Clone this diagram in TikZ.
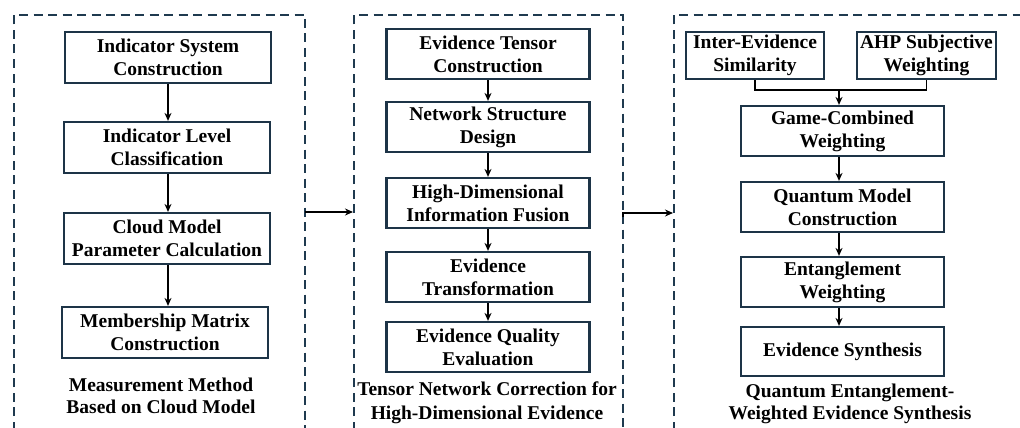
\documentclass[tikz,border=0pt]{standalone}
\usepackage{fontspec}
\setmainfont{Liberation Serif}
\usetikzlibrary{arrows.meta}
\definecolor{navy}{HTML}{1D3447}
\definecolor{dashc}{HTML}{1F3A4F}
\begin{document}
\begin{tikzpicture}[x=1pt,y=-1pt,
  every node/.style={font=\fontsize{19.5}{23}\selectfont\bfseries, align=center, inner sep=0pt},
  stepbox/.style={draw=navy, line width=2.2pt, minimum height=50pt},
  panel/.style={draw=dashc, line width=1.8pt, dash pattern=on 9pt off 5.5pt},
  flow/.style={draw=black, line width=1.4pt, -{Stealth[length=8pt,width=7pt]}},
  plain/.style={draw=black, line width=1.4pt},
  caption/.style={font=\fontsize{19.5}{22}\selectfont\bfseries},
  caption2/.style={font=\fontsize{19.5}{24}\selectfont\bfseries}]
\useasboundingbox (0,0) rectangle (1020,428);
\clip (0,0) rectangle (1020,428);
\fill[white] (0,0) rectangle (1020,428);
% panels
\draw[panel] (14,445) -- (14,15) -- (305,15) -- (305,445);
\draw[panel] (354,445) -- (354,15) -- (623,15) -- (623,445);
\draw[panel] (674,445) -- (674,15) -- (1040,15);
% left column
\node[stepbox, minimum width=206pt, minimum height=51pt] (l1) at (168,57.5) {Indicator System\\Construction};
\node[stepbox, minimum width=206pt, minimum height=51pt] (l2) at (167,147.5) {Indicator Level\\Classification};
\node[stepbox, minimum width=206pt, minimum height=51pt] (l3) at (167,238.5) {Cloud Model\\Parameter Calculation};
\node[stepbox, minimum width=206pt, minimum height=51pt] (l4) at (165,332.5) {Membership Matrix\\Construction};
\node[caption] (lc) at (161,396) {Measurement Method\\Based on Cloud Model};
\draw[flow] (l1.south -| 168,0) -- (l2.north -| 168,0);
\draw[flow] (l2.south -| 168,0) -- (l3.north -| 168,0);
\draw[flow] (l3.south -| 168,0) -- (l4.north -| 168,0);
% middle column
\node[stepbox, minimum width=203pt] (m1) at (488,54) {Evidence Tensor\\Construction};
\node[stepbox, minimum width=203pt] (m2) at (488,127) {Network Structure\\Design};
\node[stepbox, minimum width=203pt] (m3) at (488,203) {High-Dimensional\\Information Fusion};
\node[stepbox, minimum width=203pt] (m4) at (488,277) {Evidence\\Transformation};
\node[stepbox, minimum width=203pt] (m5) at (488,347) {Evidence Quality\\Evaluation};
\node[caption2] (mc) at (487,403) {Tensor Network Correction for\\High-Dimensional Evidence};
\draw[flow] (m1) -- (m2);
\draw[flow] (m2) -- (m3);
\draw[flow] (m3) -- (m4);
\draw[flow] (m4) -- (m5);
% right column
\node[stepbox, minimum width=138pt, minimum height=47pt] (ra) at (755,55.5) {Inter-Evidence\\Similarity};
\node[stepbox, minimum width=139pt, minimum height=47pt] (rb) at (926.5,55.5) {AHP Subjective\\Weighting};
\node[stepbox, minimum width=203pt] (r1) at (842.5,131) {Game-Combined\\Weighting};
\node[stepbox, minimum width=203pt] (r2) at (842.5,207) {Quantum Model\\Construction};
\node[stepbox, minimum width=203pt] (r3) at (842.5,282) {Entanglement\\Weighting};
\node[stepbox, minimum width=203pt, minimum height=49pt] (r4) at (842.5,351.5) {Evidence Synthesis};
\node[caption] (rc) at (850,404) {Quantum Entanglement-\\Weighted Evidence Synthesis};
\coordinate (join) at (839,90);
\draw[plain] (ra.south) |- (join) -| (rb.south);
\draw[flow] (join) -- (join |- r1.north);
\draw[flow] (r1.south -| 839,0) -- (r2.north -| 839,0);
\draw[flow] (r2.south -| 839,0) -- (r3.north -| 839,0);
\draw[flow] (r3.south -| 839,0) -- (r4.north -| 839,0);
% panel links
\coordinate (p1out) at (305,212);
\coordinate (p2in) at (353,212);
\coordinate (p2out) at (623,217);
\coordinate (p3in) at (673,213);
\draw[flow] (p1out) -- (p2in);
\draw[flow] (p2out) |- (p3in);
\end{tikzpicture}
\end{document}
